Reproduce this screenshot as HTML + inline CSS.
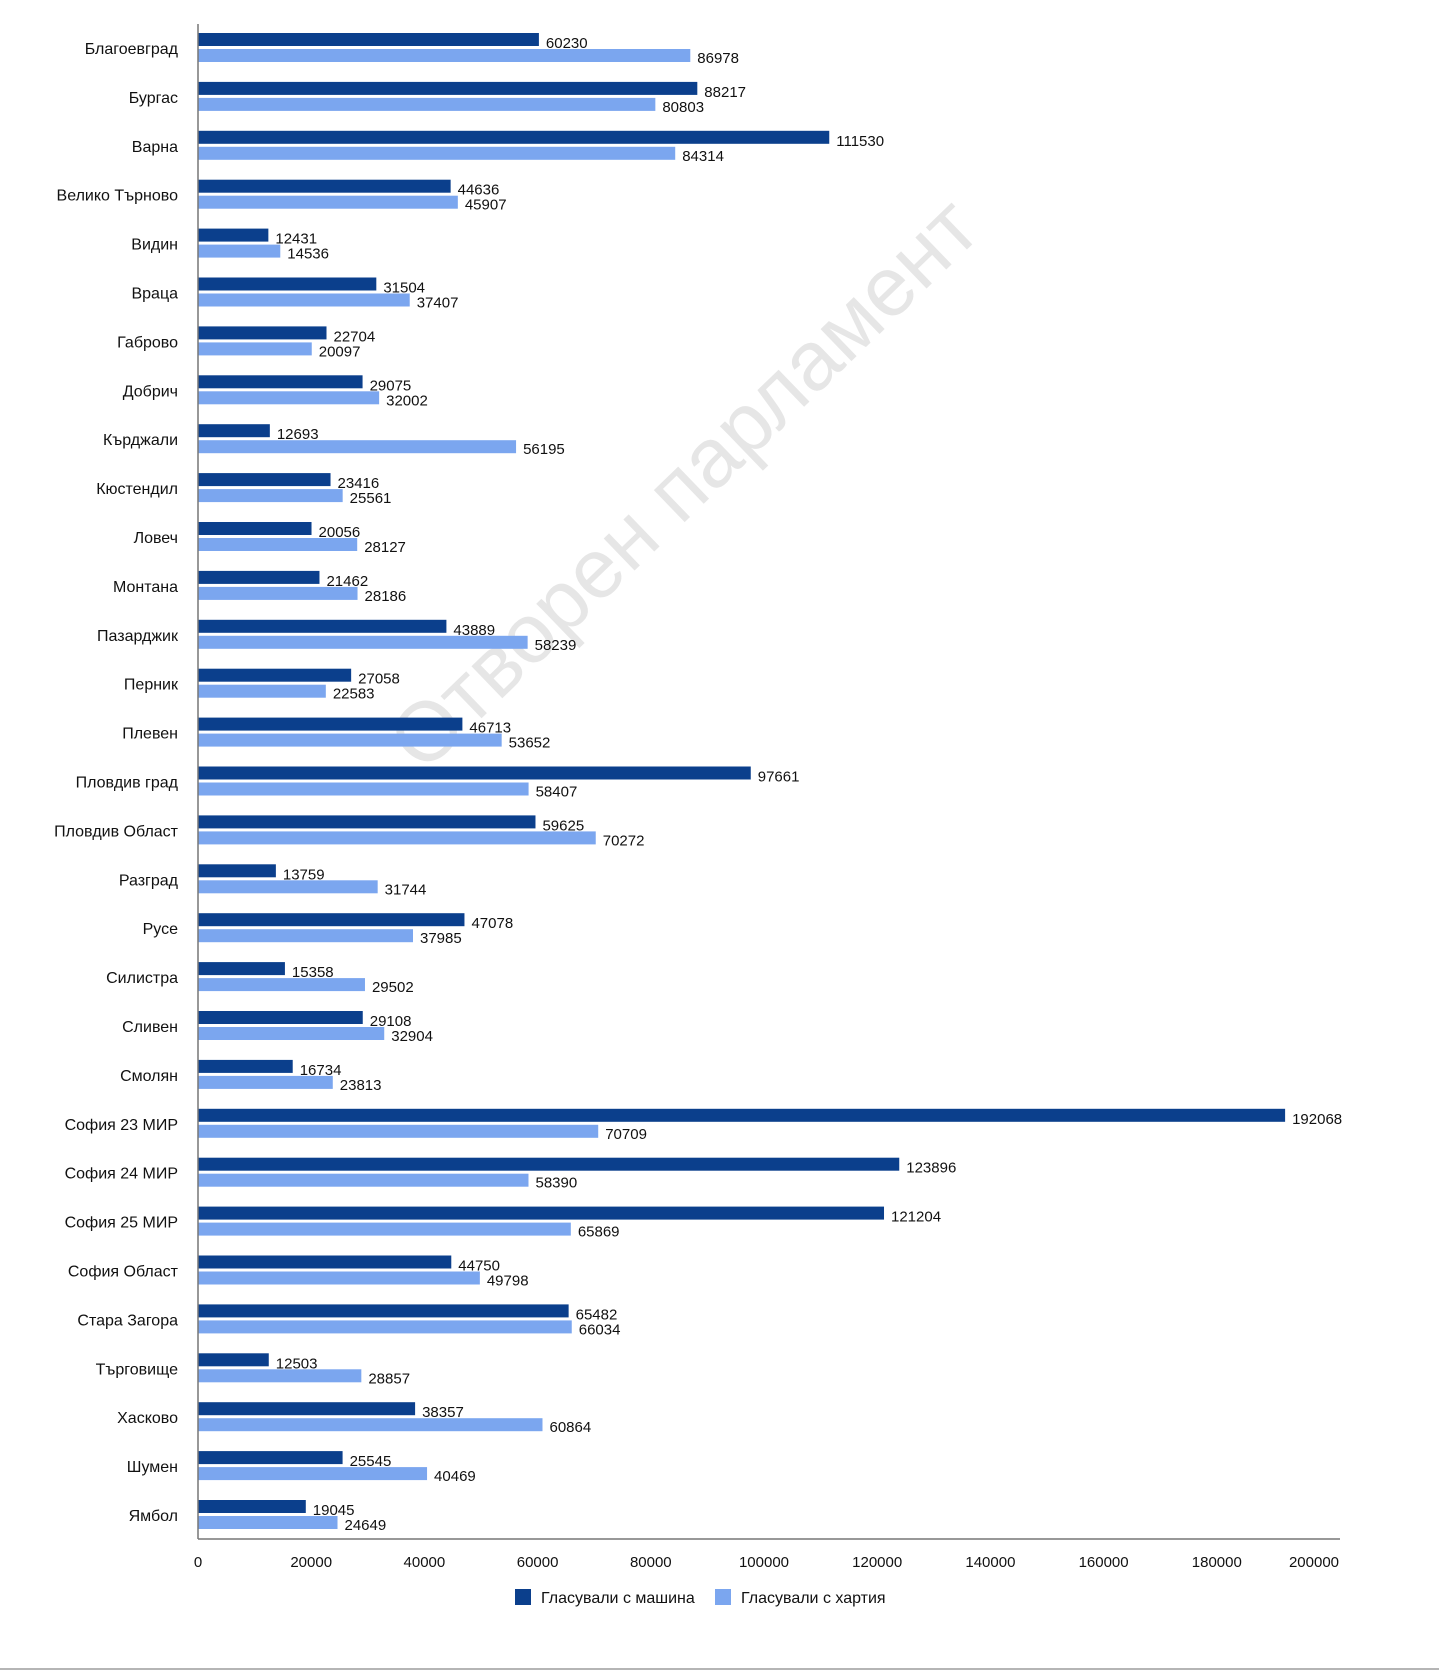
<!DOCTYPE html>
<html><head><meta charset="utf-8"><style>
body{margin:0;background:#fff;}
svg{display:block;font-family:"Liberation Sans","DejaVu Sans",sans-serif;}
</style></head><body>
<svg id="chart" width="1439" height="1671" viewBox="0 0 1439 1671" xmlns="http://www.w3.org/2000/svg">
<rect x="0" y="0" width="1439" height="1671" fill="#fff"/>
<line x1="0" y1="1669" x2="1439" y2="1669" stroke="#b5b5b5" stroke-width="2"/>
<text x="688" y="488" font-size="84" fill="#e6e6e6" text-anchor="middle" dominant-baseline="middle" transform="rotate(-44 688 488)">Отворен парламент</text>
<g id="plot"></g>
<g>
<rect x="515" y="1589" width="16" height="16" fill="#0b3f8c"/>
<text x="541" y="1603" font-size="16" fill="#111">Гласували с машина</text>
<rect x="715" y="1589" width="16" height="16" fill="#7ba6ef"/>
<text x="741" y="1603" font-size="16" fill="#111">Гласували с хартия</text>
</g>
</svg>
<script>
const categories=["Благоевград","Бургас","Варна","Велико Търново","Видин","Враца","Габрово","Добрич","Кърджали","Кюстендил","Ловеч","Монтана","Пазарджик","Перник","Плевен","Пловдив град","Пловдив Област","Разград","Русе","Силистра","Сливен","Смолян","София 23 МИР","София 24 МИР","София 25 МИР","София Област","Стара Загора","Търговище","Хасково","Шумен","Ямбол"];
const machineVotes=[60230,88217,111530,44636,12431,31504,22704,29075,12693,23416,20056,21462,43889,27058,46713,97661,59625,13759,47078,15358,29108,16734,192068,123896,121204,44750,65482,12503,38357,25545,19045];
const paperVotes=[86978,80803,84314,45907,14536,37407,20097,32002,56195,25561,28127,28186,58239,22583,53652,58407,70272,31744,37985,29502,32904,23813,70709,58390,65869,49798,66034,28857,60864,40469,24649];
const xTicks=[0,20000,40000,60000,80000,100000,120000,140000,160000,180000,200000];

const NS="http://www.w3.org/2000/svg";
const g=document.getElementById('plot');
const X0=198,X1=1330,XMAX=200000;
const x=v=>X0+(X1-X0)*v/XMAX;
const rowTop=i=>33+i*48.9;
function mk(tag,attrs,txt){const e=document.createElementNS(NS,tag);for(const k in attrs)e.setAttribute(k,attrs[k]);if(txt!==undefined)e.textContent=txt;g.appendChild(e);return e;}

categories.forEach((c,i)=>{
  const t=rowTop(i);
  const lab=mk('text',{x:178,y:t+21,'font-size':16,'text-anchor':'end',fill:'#111'},c);
  
  
  const b1=mk('rect',{x:X0,y:t,width:x(machineVotes[i])-X0,height:13,fill:'#0b3f8c'});
  
  
  const b2=mk('rect',{x:X0,y:t+16,width:x(paperVotes[i])-X0,height:13,fill:'#7ba6ef'});
  
  
  const v1=mk('text',{x:x(machineVotes[i])+7,y:t+15,'font-size':15,fill:'#111'},String(machineVotes[i]));
  
  
  const v2=mk('text',{x:x(paperVotes[i])+7,y:t+30,'font-size':15,fill:'#111'},String(paperVotes[i]));
  
  
});
const ya=mk('line',{x1:X0,y1:24,x2:X0,y2:1539,stroke:'#777','stroke-width':1.5});


const xa=mk('line',{x1:X0,y1:1539,x2:1340,y2:1539,stroke:'#777','stroke-width':1.5});


xTicks.forEach(v=>{
  let px=x(v); if(v===XMAX) px=Math.min(px,1314);
  const t=mk('text',{x:px,y:1567,'font-size':15,'text-anchor':'middle',fill:'#111'},String(v));
  
  
});
</script>
</body></html>
